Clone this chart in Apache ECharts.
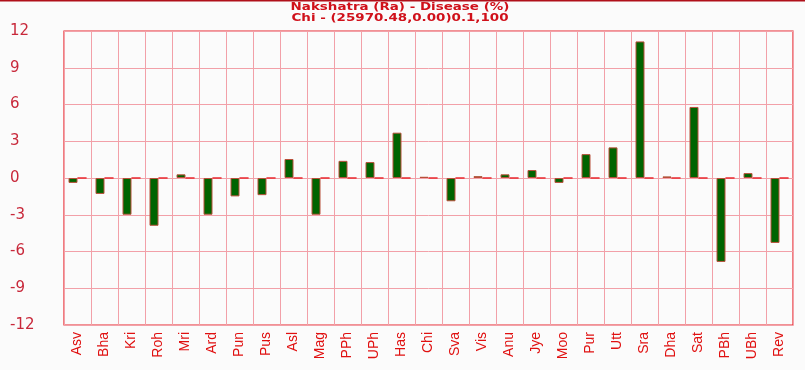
<!DOCTYPE html>
<html><head><meta charset="utf-8">
<script src="https://cdn.jsdelivr.net/npm/echarts@6/dist/echarts.min.js"></script>
<style>html,body{margin:0;padding:0;background:#fbfbfb;}#c{width:805px;height:370px;}</style>
</head><body><div id="c"></div>
<script>
const categories = ["Asv","Bha","Kri","Roh","Mri","Ard","Pun","Pus","Asl","Mag","PPh","UPh","Has","Chi","Sva","Vis","Anu","Jye","Moo","Pur","Utt","Sra","Dha","Sat","PBh","UBh","Rev"];
const values = [-0.4,-1.3,-3.0,-3.9,0.3,-3.0,-1.5,-1.4,1.55,-3.0,1.4,1.3,3.7,0.1,-1.9,0.15,0.3,0.65,-0.4,1.95,2.5,11.15,0.13,5.8,-6.85,0.4,-5.3];
const zeroSeries = categories.map(() => 0);
const titleLines = ["Nakshatra (Ra) - Disease (%)", "Chi - (25970.48,0.00)0.1,100"];
const chart = echarts.init(document.getElementById('c'), null, {renderer:'canvas'});
const titleFont = {fontFamily:'DejaVu Sans', fontSize:10.5, fontWeight:'bold', fill:'#d0101a', textAlign:'center', textVerticalAlign:'top'};
chart.setOption({
  backgroundColor:'#fbfbfb',
  animation:false,
  graphic:[
    {type:'rect', shape:{x:0,y:0,width:805,height:1.5}, style:{fill:'#b0101a'}},
    {type:'text', x:400, y:2, scaleX:1.28, style:Object.assign({text:titleLines[0]}, titleFont)},
    {type:'text', x:400, y:13, scaleX:1.28, style:Object.assign({text:titleLines[1]}, titleFont)}
  ],
  grid:{left:64, right:12, top:31, bottom:45, show:true, borderColor:'#e8282e', borderWidth:1.2, backgroundColor:'transparent'},
  xAxis:{type:'category', data:categories, boundaryGap:true,
    axisLine:{show:false}, axisTick:{show:false},
    splitLine:{show:true, interval:0, lineStyle:{color:'#f2a0a8', width:1}},
    axisLabel:{interval:0, rotate:90, color:'#e01010', fontFamily:'Liberation Sans', fontSize:14, margin:7}},
  yAxis:{type:'value', min:-12, max:12, interval:3,
    axisLine:{show:false}, axisTick:{show:false},
    splitLine:{lineStyle:{color:'#f2a0a8', width:1}},
    axisLabel:{color:'#c8283a', fontFamily:'DejaVu Sans', fontSize:15, align:'left', margin:54}},
  series:[
    {type:'bar', data:values, barWidth:9, barGap:'0%', barCategoryGap:'33%',
      itemStyle:{color:'#006400', borderColor:'#b8503a', borderWidth:1}},
    {type:'bar', data:zeroSeries, barWidth:9,
      itemStyle:{color:'#e8282e', borderColor:'#e8282e', borderWidth:1}}
  ]
});
</script></body></html>
